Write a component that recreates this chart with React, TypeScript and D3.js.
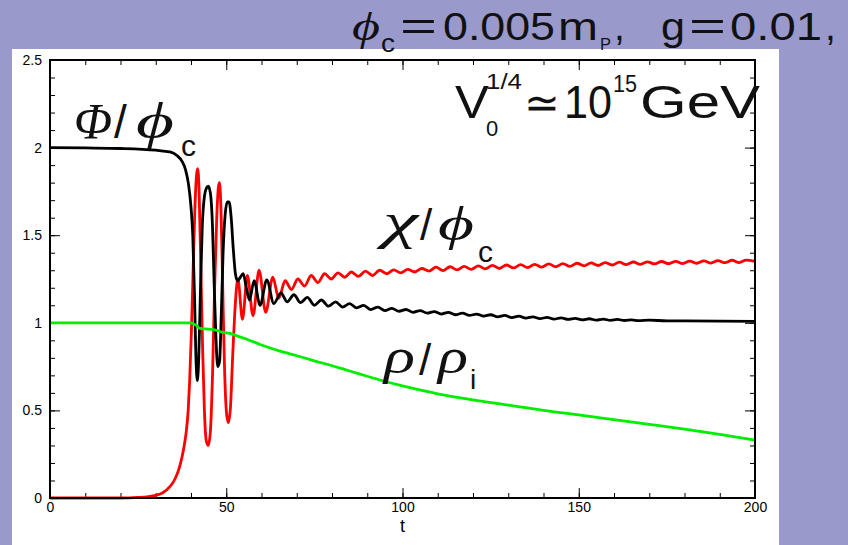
import React, { useEffect, useRef } from 'react';
import * as d3 from 'd3';

// Phi / phi_c  (black)
const phiSeries: [number, number][] = [
  [0, 2.0], [10, 1.998], [20, 1.995], [30, 1.985], [34, 1.975], [36, 1.955], [37.5, 1.92],
  [38.5, 1.87], [39.3, 1.79], [40, 1.66], [40.5, 1.5], [41, 1.15], [41.4, 0.8], [41.8, 0.67],
  [42.2, 0.8], [42.7, 1.2], [43.2, 1.55], [43.8, 1.72], [44.4, 1.77], [44.9, 1.78], [45.5, 1.74],
  [46.1, 1.55], [46.6, 1.2], [47.1, 0.9], [47.6, 0.75], [48.1, 0.78], [48.6, 1.05], [49.1, 1.4],
  [49.7, 1.62], [50.3, 1.69], [50.8, 1.69], [51.4, 1.6], [52, 1.42], [52.6, 1.28], [53.2, 1.24],
  [54, 1.26], [54.8, 1.28], [55.7, 1.2], [56.6, 1.13], [57.9, 1.24], [59.6, 1.1], [61.5, 1.245],
  [63.5, 1.11], [65.5, 1.17], [67.3, 1.12], [69.2, 1.16], [71.1, 1.115], [73, 1.145], [75, 1.1],
  [77, 1.13], [79, 1.095], [81, 1.12], [83, 1.09], [85, 1.11], [87, 1.085], [89, 1.1],
  [91, 1.075], [93, 1.09], [95, 1.07], [97, 1.082], [99, 1.066], [101, 1.076], [103, 1.06],
  [105, 1.07], [107, 1.055], [109, 1.064], [111, 1.05], [113, 1.06], [115, 1.046], [117, 1.055],
  [119, 1.042], [121, 1.05], [123, 1.038], [125, 1.046], [127, 1.034], [129, 1.042], [131, 1.03],
  [133, 1.038], [135, 1.027], [137, 1.034], [139, 1.024], [141, 1.031], [143, 1.021], [145, 1.028],
  [147, 1.019], [149, 1.025], [151, 1.017], [153, 1.023], [155, 1.015], [157, 1.021], [159, 1.014],
  [161, 1.019], [163, 1.013], [165, 1.017], [167, 1.012], [170, 1.015], [175, 1.011], [180, 1.011],
  [190, 1.01], [200, 1.008],
];

// chi / phi_c  (red)
const chiSeries: [number, number][] = [
  [0, 0], [20, 0], [25, 0.003], [28, 0.008], [30, 0.015], [32, 0.03], [34, 0.065], [35.5, 0.11],
  [36.8, 0.18], [37.9, 0.28], [38.6, 0.37], [39.2, 0.5], [39.6, 0.66], [40.1, 0.94], [40.6, 1.3],
  [41.1, 1.65], [41.6, 1.85], [41.9, 1.88], [42.3, 1.75], [42.8, 1.3], [43.3, 0.85], [43.8, 0.5],
  [44.3, 0.33], [44.9, 0.3], [45.5, 0.38], [46.1, 0.7], [46.7, 1.2], [47.3, 1.6], [47.8, 1.78],
  [48.1, 1.8], [48.5, 1.65], [49, 1.2], [49.5, 0.75], [50.1, 0.48], [50.6, 0.43], [51.2, 0.52],
  [51.8, 0.8], [52.4, 1.05], [53.3, 1.25], [54.6, 1.02], [56, 1.27], [57.6, 1.04], [59.3, 1.3],
  [61.2, 1.06], [63.2, 1.26], [64.9, 1.14], [66.7, 1.24], [68.5, 1.19], [70.3, 1.25], [72.2, 1.21],
  [74.1, 1.27], [76, 1.23], [77.9, 1.28], [79.8, 1.25], [81.7, 1.285], [83.6, 1.26], [85.5, 1.29],
  [87.5, 1.265], [89.5, 1.295], [91.5, 1.27], [93.5, 1.3], [95.5, 1.28], [97.5, 1.302], [99.5, 1.285],
  [101.5, 1.305], [103.5, 1.29], [105.5, 1.31], [107.5, 1.295], [109.5, 1.318], [111.5, 1.298],
  [113.5, 1.32], [115.5, 1.302], [117.5, 1.322], [119.5, 1.305], [121.5, 1.325], [123.5, 1.308],
  [125.5, 1.328], [127.5, 1.31], [129.5, 1.33], [131.5, 1.313], [133.5, 1.332], [135.5, 1.315],
  [137.5, 1.334], [139.5, 1.318], [141.5, 1.336], [143.5, 1.32], [145.5, 1.338], [147.5, 1.322],
  [149.5, 1.34], [151.5, 1.325], [153.5, 1.342], [155.5, 1.327], [157.5, 1.344], [159.5, 1.33],
  [161.5, 1.346], [163.5, 1.332], [165.5, 1.347], [167.5, 1.334], [169.5, 1.348], [171.5, 1.336],
  [173.5, 1.35], [175.5, 1.337], [177.5, 1.351], [179.5, 1.338], [181.5, 1.352], [183.5, 1.34],
  [185.5, 1.353], [187.5, 1.341], [189.5, 1.355], [191.5, 1.343], [193.5, 1.357], [195.5, 1.344],
  [197.5, 1.358], [200, 1.35],
];

// rho / rho_i  (green)
const rhoSeries: [number, number][] = [
  [0, 1.0], [20, 1.0], [40, 1.0], [41.5, 0.985], [42.5, 0.968], [44, 0.965], [46, 0.962],
  [47.5, 0.955], [49, 0.945], [51, 0.94], [53, 0.925], [56, 0.905], [60, 0.873], [65, 0.84],
  [70, 0.812], [75, 0.783], [80, 0.755], [85, 0.725], [90, 0.695], [95, 0.665], [100, 0.64],
  [110, 0.595], [120, 0.56], [130, 0.53], [140, 0.5], [150, 0.474], [160, 0.447], [170, 0.42],
  [180, 0.393], [190, 0.363], [200, 0.33],
];

const xTicks = [0, 50, 100, 150, 200];
const yTicks = [0, 0.5, 1, 1.5, 2, 2.5];
const yTickLabels = ['0', '0.5', '1', '1.5', '2', '2.5'];

const App = () => {
  const ref = useRef<SVGSVGElement>(null);

  useEffect(() => {
    const width = 848;
    const height = 545;
    const margin = { top: 60, right: 93, bottom: 47, left: 50 };
    const innerWidth = width - margin.left - margin.right;
    const innerHeight = height - margin.top - margin.bottom;

    const svg = d3.select(ref.current);
    svg.selectAll('*').remove();

    // lavender background + white panel
    svg.append('rect').attr('width', width).attr('height', height).attr('fill', '#9999cc');
    svg.append('rect').attr('x', 12).attr('y', 49).attr('width', 767).attr('height', height - 49)
      .attr('fill', '#ffffff');

    const chart = svg.append('g')
      .attr('transform', `translate(${margin.left}, ${margin.top})`);

    const x = d3.scaleLinear().domain([0, 200]).range([0, innerWidth]);
    const y = d3.scaleLinear().domain([0, 2.5]).range([innerHeight, 0]);

    const tickFont = (g: any) => g.selectAll('text')
      .attr('font-family', '"Liberation Sans", Arial, sans-serif')
      .attr('font-size', 14)
      .attr('fill', '#000');

    // minor ticks
    const minor = (axis: any, gTransform: string) => {
      chart.append('g').attr('transform', gTransform)
        .call(axis.tickSize(-5).tickFormat(() => ''))
        .call((g: any) => g.select('.domain').remove())
        .call((g: any) => g.selectAll('line').attr('stroke', '#000').attr('stroke-width', 1));
    };
    minor(d3.axisBottom(x).tickValues(x.ticks(20)), `translate(0, ${innerHeight})`);
    minor(d3.axisTop(x).tickValues(x.ticks(20)), 'translate(0, 0)');
    minor(d3.axisLeft(y).tickValues(y.ticks(25)), 'translate(0, 0)');
    minor(d3.axisRight(y).tickValues(y.ticks(25)), `translate(${innerWidth}, 0)`);

    // major ticks
    chart.append('g').attr('transform', `translate(0, ${innerHeight})`)
      .call(d3.axisBottom(x).tickValues(xTicks).tickSize(-10).tickPadding(4).tickFormat(d3.format('d')))
      .call((g: any) => g.select('.domain').remove())
      .call((g: any) => g.selectAll('line').attr('stroke', '#000').attr('stroke-width', 1))
      .call(tickFont);
    chart.append('g')
      .call(d3.axisLeft(y).tickValues(yTicks).tickSize(-10).tickPadding(8)
        .tickFormat((d: any, i: number) => yTickLabels[i]))
      .call((g: any) => g.select('.domain').remove())
      .call((g: any) => g.selectAll('line').attr('stroke', '#000').attr('stroke-width', 1))
      .call(tickFont);
    chart.append('g')
      .call(d3.axisTop(x).tickValues(xTicks).tickSize(-10).tickFormat(() => ''))
      .call((g: any) => g.select('.domain').remove())
      .call((g: any) => g.selectAll('line').attr('stroke', '#000').attr('stroke-width', 1));
    chart.append('g').attr('transform', `translate(${innerWidth}, 0)`)
      .call(d3.axisRight(y).tickValues(yTicks).tickSize(-10).tickFormat(() => ''))
      .call((g: any) => g.select('.domain').remove())
      .call((g: any) => g.selectAll('line').attr('stroke', '#000').attr('stroke-width', 1));

    // Lines
    const line = d3.line<[number, number]>()
      .x(d => x(d[0]))
      .y(d => y(d[1]))
      .curve(d3.curveMonotoneX);

    chart.append('path').datum(chiSeries)
      .attr('d', line).attr('fill', 'none').attr('stroke', '#ff0000').attr('stroke-width', 2.8);
    chart.append('path').datum(phiSeries)
      .attr('d', line).attr('fill', 'none').attr('stroke', '#000000').attr('stroke-width', 2.8);
    chart.append('path').datum(rhoSeries)
      .attr('d', line).attr('fill', 'none').attr('stroke', '#00ee00').attr('stroke-width', 2.8);

    // frame
    chart.append('rect')
      .attr('width', innerWidth).attr('height', innerHeight)
      .attr('fill', 'none').attr('stroke', '#000').attr('stroke-width', 2);

    // X-axis label
    chart.append('text')
      .attr('x', innerWidth / 2)
      .attr('y', innerHeight + 34)
      .attr('text-anchor', 'middle')
      .attr('font-family', '"Liberation Sans", Arial, sans-serif')
      .attr('font-size', 18)
      .text('t');

    // annotations
    const sans = '"Liberation Sans", Arial, sans-serif';
    const serif = '"Liberation Serif", "DejaVu Serif", "Times New Roman", serif';
    const put = (txt: string, px: number, py: number, size: number, family: string,
      italic = false, len = 0) => {
      const t = svg.append('text').attr('x', px).attr('y', py).attr('font-size', size)
        .attr('font-family', family).attr('font-style', italic ? 'italic' : 'normal')
        .attr('fill', '#111').text(txt);
      if (len > 0) t.attr('textLength', len).attr('lengthAdjust', 'spacingAndGlyphs');
      return t;
    };

    // top caption
    put('\u03d5', 352, 40, 40, serif, true, 28);
    put('c', 381, 52, 26, sans, false, 14);
    put('=', 400, 40, 40, sans, false, 37);
    put('0.005', 443, 40, 39, sans, false, 112);
    put('m', 558, 40, 39, sans, false, 40);
    put('P', 600, 50, 17, sans, false, 11);
    put(',', 614, 40, 39, sans);
    put('g', 661, 40, 39, sans, false, 24);
    put('=', 689, 40, 40, sans, false, 37);
    put('0.01', 730, 40, 39, sans, false, 92);
    put(',', 825, 40, 39, sans);

    // V0^{1/4} ~ 10^15 GeV
    put('V', 455, 118, 46, sans, false, 34);
    put('0', 486, 136, 22, sans);
    put('1/4', 486, 89, 22, sans, false, 36);
    put('\u2243', 524, 118, 44, sans, false, 36);
    put('10', 564, 118, 46, sans, false, 48);
    put('15', 613, 92, 24, sans, false, 24);
    put('GeV', 640, 118, 46, sans, false, 120);

    // Phi / phi_c
    put('\u03a6', 74, 138, 50, serif, true);
    put('/', 114, 138, 46, sans);
    put('\u03d5', 136, 138, 50, serif, true, 38);
    put('c', 181, 156, 30, sans);

    // chi / phi_c
    put('\u03c7', 383, 238, 50, serif, true, 35);
    put('/', 420, 240, 44, sans);
    put('\u03d5', 438, 240, 48, serif, true, 36);
    put('c', 478, 262, 30, sans);

    // rho / rho_i
    put('\u03c1', 384, 373, 50, serif, true, 31);
    put('/', 419, 375, 44, sans);
    put('\u03c1', 438, 373, 50, serif, true, 30);
    put('i', 470, 389, 28, sans);
  }, []);

  return (
    <svg
      ref={ref}
      width={848}
      height={545}
      style={{ position: 'absolute', left: 0, top: 0, display: 'block' }}
    />
  );
};

export default App;
